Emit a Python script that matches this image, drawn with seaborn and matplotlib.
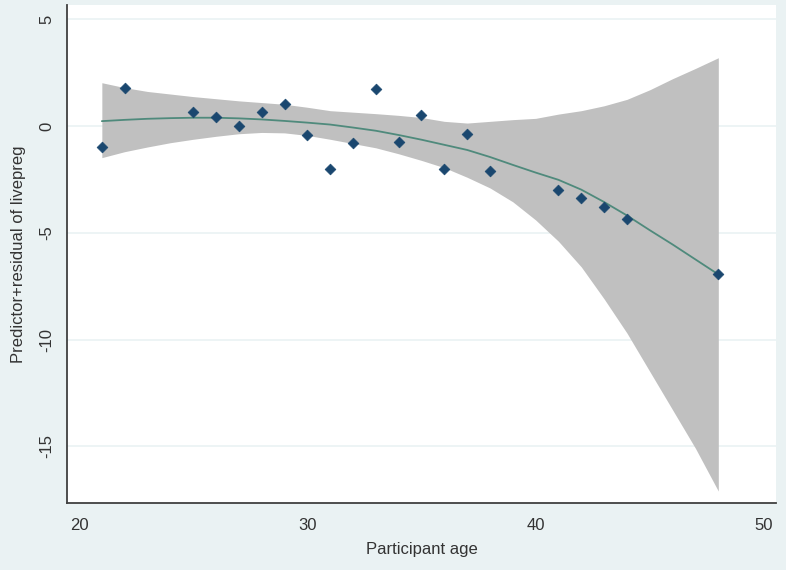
import numpy as np
import pandas as pd
import matplotlib
matplotlib.use("Agg")
import matplotlib.pyplot as plt
import seaborn as sns

age = [21, 22, 25, 26, 27, 28, 29, 30, 31, 32, 33, 34, 35, 36, 37, 38, 41, 42, 43, 44, 48]
cpr = [-1.00, 1.80, 0.66, 0.41, 0.00, 0.66, 1.03, -0.44, -2.03, -0.81, 1.73, -0.75,
       0.53, -2.03, -0.37, -2.09, -2.98, -3.37, -3.81, -4.34, -6.95]

# Fitted curve and its confidence band
fit_age = [21, 22, 23, 24, 25, 26, 27, 28, 29, 30, 31, 32, 33, 34,
           35, 36, 37, 38, 39, 40, 41, 42, 43, 44, 45, 46, 47, 48]
fit_mid = [0.23, 0.29, 0.34, 0.37, 0.39, 0.39, 0.36, 0.31, 0.24, 0.16, 0.07, -0.07, -0.22, -0.42,
           -0.64, -0.88, -1.12, -1.45, -1.82, -2.18, -2.52, -2.98, -3.56, -4.19, -4.88, -5.55, -6.25, -6.95]
fit_hi = [2.03, 1.80, 1.62, 1.50, 1.38, 1.28, 1.18, 1.10, 1.02, 0.88, 0.72, 0.65, 0.58, 0.50,
          0.40, 0.22, 0.14, 0.22, 0.30, 0.36, 0.56, 0.72, 0.95, 1.25, 1.70, 2.22, 2.70, 3.20]
fit_lo = [-1.48, -1.20, -0.98, -0.78, -0.62, -0.48, -0.36, -0.30, -0.32, -0.44, -0.62, -0.82, -1.02, -1.30,
          -1.61, -1.95, -2.40, -2.90, -3.55, -4.40, -5.40, -6.60, -8.10, -9.70, -11.50, -13.30, -15.10, -17.10]

x_ticks = [20, 30, 40, 50]
y_ticks = [5, 0, -5, -10, -15]
x_label = "Participant age"
y_label = "Predictor+residual of livepreg"

df = pd.DataFrame({"age": age, "cpr": cpr})
fit_df = pd.DataFrame({"age": fit_age, "fit": fit_mid, "lo": fit_lo, "hi": fit_hi})

bg = "#eaf2f3"
sns.set_theme(style="white")
plt.rcParams["font.family"] = ["Liberation Sans", "DejaVu Sans"]

fig = plt.figure(figsize=(7.86, 5.70), dpi=100, facecolor=bg)
ax = fig.add_axes([67 / 786, 1 - 503 / 570, (776 - 67) / 786, (503 - 5) / 570])
ax.set_facecolor("white")

for yt in y_ticks:
    ax.axhline(yt, color=bg, lw=1.2, zorder=0)

ax.fill_between(fit_df["age"], fit_df["lo"], fit_df["hi"], color="#c0c0c0", lw=0, zorder=1)
sns.lineplot(data=fit_df, x="age", y="fit", ax=ax, color="#4f8a7c", lw=1.3, zorder=2)
sns.scatterplot(data=df, x="age", y="cpr", ax=ax, marker="D", s=30, color="#1a476f",
                edgecolor="#1a476f", linewidth=0.5, zorder=3)

ax.set_xlim(20 - 12 / 22.8, 50 + 12 / 22.8)
ax.set_ylim(-15 - 56.7 / 21.33, 5 + 14.3 / 21.33)
ax.set_xticks(x_ticks)
ax.set_yticks(y_ticks)
ax.set_yticklabels([str(v) for v in y_ticks], rotation=90, va="center")
ax.tick_params(axis="both", direction="out", length=5, width=1, color="#333333",
               labelsize=12, labelcolor="#333333", pad=4)
ax.tick_params(axis="x", pad=6)
for side in ["top", "right"]:
    ax.spines[side].set_visible(False)
for side in ["left", "bottom"]:
    ax.spines[side].set_color("#404040")
    ax.spines[side].set_linewidth(1.3)

ax.set_xlabel(x_label, fontsize=12, color="#333333", labelpad=6)
ax.set_ylabel(y_label, fontsize=12, color="#333333", labelpad=10)

fig.savefig("out.png", dpi=100, facecolor=bg)
